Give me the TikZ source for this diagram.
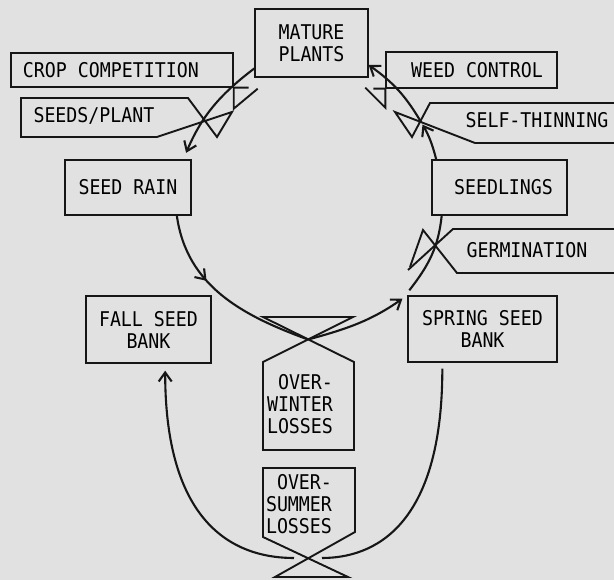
\documentclass[tikz,border=0pt]{standalone}
\usepackage{fontspec}
\setmonofont[FakeStretch=0.9]{DejaVu Sans Mono}
\usetikzlibrary{arrows.meta,decorations.markings}
\definecolor{paper}{RGB}{225,225,225}
\definecolor{ink}{RGB}{22,22,22}

\begin{document}
\begin{tikzpicture}[
  x=1pt, y=1pt,
  box/.style={
    draw=ink, line width=1.4pt,
    inner sep=0pt,
    font=\ttfamily\fontsize{20.3}{22}\selectfont,
    align=center,
    execute at begin node={\spaceskip=0pt\xspaceskip=0pt\relax}
  },
  txt/.style={box, draw=none},                       % text only
  valve/.style={draw=ink, line width=1.9pt, line join=miter},
  flow/.style={draw=ink, line width=2.1pt},
  flowtip/.style={-{Straight Barb[length=9pt,width=13pt]}},
  midtip/.style={postaction={decorate},
    decoration={markings, mark=at position #1 with {\arrow{Straight Barb[length=9pt,width=13pt]}}}}
]
\useasboundingbox (0,0) rectangle (614,-580);
\fill[paper] (0,0) rectangle (614,-580);

% --- stocks ---
\node[box, minimum width=113pt, minimum height=68pt] (mature) at (311.5,-43) {MATURE\\PLANTS};
\node[box, minimum height=34pt, text width=198pt, align=left, inner xsep=12pt] (crop) at (122,-70) {CROP COMPETITION};
\node[box, minimum height=36pt, text width=143pt, align=right, inner xsep=14pt] (weed) at (471.5,-70) {WEED CONTROL};
\node[box, minimum width=126pt, minimum height=55pt] (rain) at (128,-187.5) {SEED RAIN};
\node[box, minimum height=55pt, text width=107pt, align=right, inner xsep=14pt] (seedlings) at (499.5,-187.5) {SEEDLINGS};
\node[box, minimum width=125pt, minimum height=67pt] (fall) at (148.5,-329.5) {FALL SEED\\BANK};
\node[box, minimum width=149pt, minimum height=66pt] (spring) at (482.5,-329) {SPRING SEED\\BANK};

% --- valve labels ---
\node[txt] (seeds) at (94,-116) {SEEDS/PLANT};
\node[txt] (thin) at (537,-120) {SELF-THINNING};
\node[txt] (germ) at (527,-250) {GERMINATION};
\node[txt, align=right] (winter) at (300,-404) {OVER-\\WINTER\\LOSSES};
\node[txt, align=right] (summer) at (299,-504) {OVER-\\SUMMER\\LOSSES};

% --- valve crossings ---
\coordinate (stx) at (421,-122);
\coordinate (owx) at (308,-339.5);
\coordinate (osx) at (308,-558);

% --- valves ---
\draw[valve] ([xshift=15pt]crop.south east) -- (crop.south east) -- ++(0,-21) -- ++(24,20);
\draw[valve] (232,-112) -- (157,-137) -- (21,-137) -- (21,-98) -- (188,-98) -- (217,-137) -- cycle;
\draw[valve] ([xshift=-12pt]weed.south west) -- (weed.south west) -- ++(0,-19) -- ++(-20,20);
\draw[valve] (614,-103) -- (430,-103) -- (412,-137) -- (395,-112) -- (475,-143) -- (614,-143);
\draw[valve] (614,-229) -- (453,-229) -- (408,-270);
\draw[valve] (614,-273) -- (457,-273) -- (423,-230) -- (410,-267);
\draw[valve] (263,-317) -- (353,-317) -- (263,-362) -- (263,-450) -- (354,-450) -- (354,-362) -- cycle;
\draw[valve] (263,-468) -- (355,-468) -- (355,-532) -- (275,-577) -- (348,-577) -- (263,-537) -- cycle;

% --- flows ---
\draw[flow, flowtip, shorten >=7pt] (mature.204) to[bend right=15] (rain.27);
\draw[flow, midtip=0.38] (rain.-30) to[out=-82,in=160] (owx);
\draw[flow, flowtip, shorten >=6pt] (owx) to[out=15,in=-145] (spring.north west);
\draw[flow] ([shift={(2pt,5pt)}]spring.north west) to[out=52,in=-96] (seedlings.206);
\draw[flow, flowtip, shorten >=3pt] (seedlings.156) to[bend right=8] (stx);
\draw[flow, flowtip] (stx) to[bend right=12] (mature.-21);
\draw[flow, shorten <=6pt, shorten >=14pt] (spring.-140) .. controls +(0,-165) and +(65,0) .. (osx);
\draw[flow, flowtip, shorten <=14pt, shorten >=7pt] (osx) .. controls +(-65,0) and +(0,-170) .. (fall.-64);

\end{tikzpicture}
\end{document}
